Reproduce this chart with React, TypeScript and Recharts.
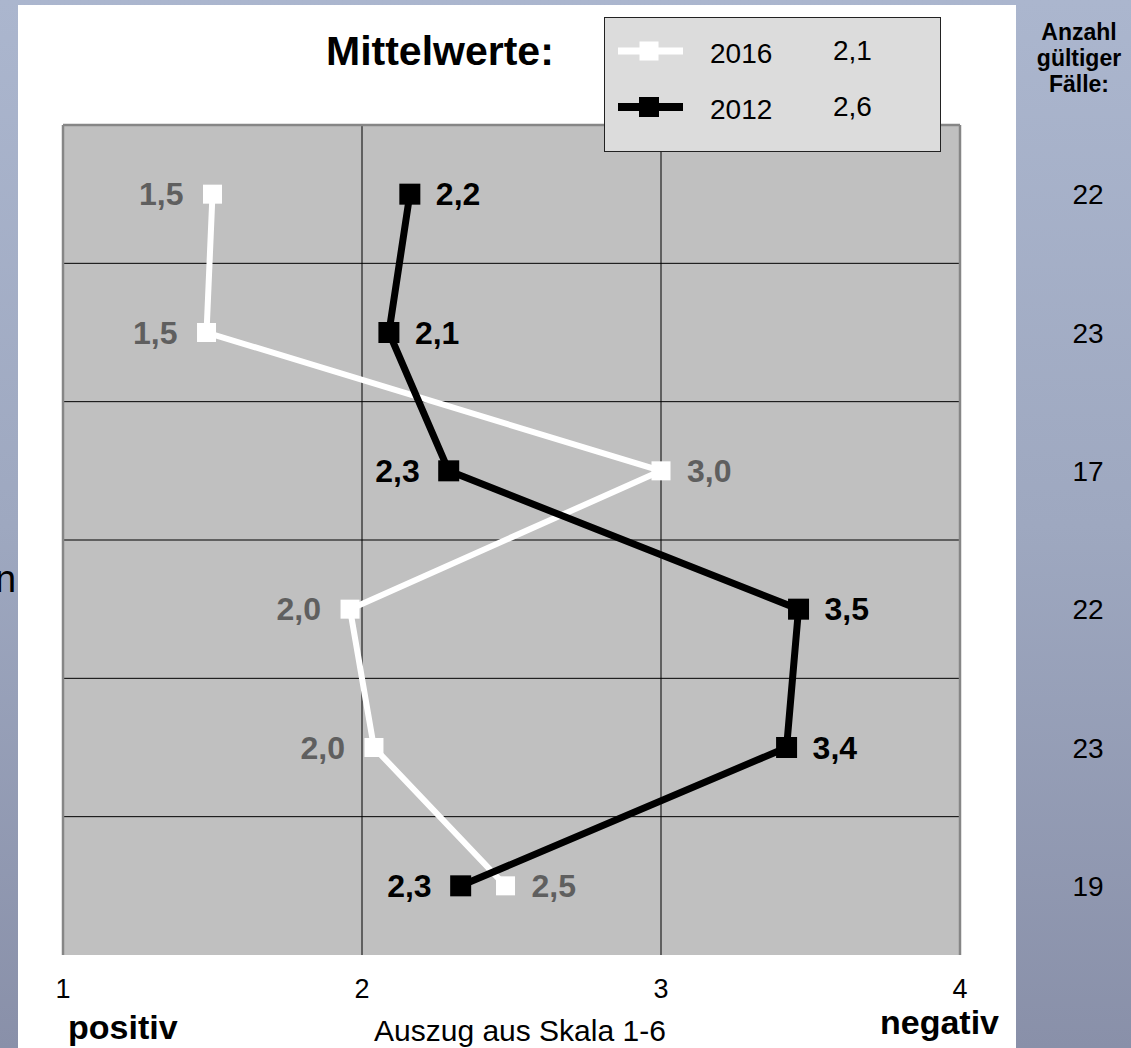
import React from 'react';
import {
  LineChart,
  Line,
  XAxis,
  YAxis,
  CartesianGrid,
  ReferenceLine,
  Legend,
  LabelList,
} from 'recharts';

// ---- data ----
const rows = ['Aussage 1', 'Aussage 2', 'Aussage 3', 'Aussage 4', 'Aussage 5', 'Aussage 6'];
const values2016 = [1.5, 1.48, 3.0, 1.96, 2.04, 2.48];
const values2012 = [2.16, 2.09, 2.29, 3.46, 3.42, 2.33];
const validCases = [22, 23, 17, 22, 23, 19];
const xTicks = [1, 2, 3, 4];
const seriesNames = ['2016', '2012'];
const seriesMeans = [2.1, 2.6];
const labelSide2016 = ['left', 'left', 'right', 'left', 'left', 'right'];
const labelSide2012 = ['right', 'right', 'left', 'right', 'right', 'left'];

const data = rows.map((row, i) => ({
  row,
  v2016: values2016[i],
  v2012: values2012[i],
  cases: validCases[i],
}));

const FONT = '"Liberation Sans", Arial, Helvetica, sans-serif';
const fmt = (v: number) => v.toFixed(1).replace('.', ',');
const BORDER = '#868686';

const makeLabel = (sides: string[], color: string) => (props: any) => {
  const x = props.x ?? props.viewBox?.x;
  const y = props.y ?? props.viewBox?.y;
  const idx = props.index;
  const side = sides[idx];
  if (x == null || y == null) return null;
  return (
    <text
      key={`lbl-${color}-${idx}`}
      x={side === 'left' ? x - 29 : x + 26}
      y={y + 11}
      textAnchor={side === 'left' ? 'end' : 'start'}
      fontFamily={FONT}
      fontWeight="bold"
      fontSize={32}
      fill={color}
    >
      {fmt(Number(props.value))}
    </text>
  );
};

const makeDot = (fill: string, size: number) => (p: any) => (
  <rect
    key={`dot-${fill}-${p.index}`}
    x={p.cx - size / 2}
    y={p.cy - size / 2}
    width={size}
    height={size}
    fill={fill}
  />
);

const CasesTick = (props: any) => {
  const { x, y, index } = props;
  return (
    <text x={x} y={y + 10} textAnchor="middle" fontFamily={FONT} fontSize={28} fill="#000">
      {validCases[index]}
    </text>
  );
};

const legendStyles = [
  { stroke: '#ffffff', width: 7, size: 19 },
  { stroke: '#000000', width: 8, size: 20 },
];

const renderLegend = () => (
  <div
    style={{
      width: 337,
      height: 135,
      boxSizing: 'border-box',
      background: '#dcdcdc',
      border: '1.5px solid #222',
    }}
  >
    <svg width={334} height={132} style={{ display: 'block' }}>
      {seriesNames.map((name, i) => {
        const cy = 33 + i * 56;
        const st = legendStyles[i];
        return (
          <g key={name}>
            <line x1={13} x2={78} y1={cy} y2={cy} stroke={st.stroke} strokeWidth={st.width} />
            <rect x={44 - st.size / 2} y={cy - st.size / 2} width={st.size} height={st.size} fill={st.stroke} />
            <text x={105} y={cy + 12} fontFamily={FONT} fontSize={28} fill="#000">
              {name}
            </text>
            <text x={228} y={cy + 9} fontFamily={FONT} fontSize={28} fill="#000">
              {fmt(seriesMeans[i])}
            </text>
          </g>
        );
      })}
    </svg>
  </div>
);

export default function App() {
  return (
    <div
      style={{
        position: 'absolute',
        left: 0,
        top: 0,
        width: 1131,
        height: 1048,
        overflow: 'hidden',
        background: 'linear-gradient(180deg, #abb6ce 0%, #9ea8c0 50%, #8990a9 100%)',
        fontFamily: FONT,
      }}
    >
      <div
        style={{
          position: 'absolute',
          left: 18,
          top: 5,
          width: 998,
          height: 1043,
          background: '#ffffff',
        }}
      />
      <div style={{ position: 'absolute', left: 0, top: 0 }}>
        <LineChart
          width={1131}
          height={1048}
          data={data}
          layout="vertical"
          margin={{ top: 125, right: 0, bottom: 0, left: 63 }}
        >
          <CartesianGrid fill="#c0c0c0" fillOpacity={1} stroke="#000" strokeWidth={1} horizontal={false} />
          <XAxis
            type="number"
            dataKey="v2016"
            domain={[1, 4]}
            ticks={xTicks}
            tickLine={false}
            axisLine={false}
            tickSize={0}
            tickMargin={24}
            height={93}
            tick={{ fontSize: 27, fill: '#000', fontFamily: FONT }}
            allowDataOverflow
          />
          <YAxis
            type="category"
            dataKey="row"
            scale="band"
            orientation="right"
            width={171}
            tickLine={false}
            axisLine={false}
            tickSize={0}
            tickMargin={128}
            tick={<CasesTick />}
          />
          {rows.slice(1).map((r) => (
            <ReferenceLine key={r} y={r} position="start" stroke="#000" strokeWidth={1} />
          ))}
          <ReferenceLine y={rows[0]} position="start" stroke={BORDER} strokeWidth={2.5} />
          <ReferenceLine y={rows[rows.length - 1]} position="end" stroke={BORDER} strokeWidth={2.5} />
          <ReferenceLine x={xTicks[0]} stroke={BORDER} strokeWidth={2.5} />
          <ReferenceLine x={xTicks[xTicks.length - 1]} stroke={BORDER} strokeWidth={2.5} />
          <Legend
            layout="vertical"
            align="center"
            verticalAlign="middle"
            wrapperStyle={{ left: 604, top: 17, width: 337, height: 135 }}
            content={renderLegend}
          />
          <Line
            name={seriesNames[0]}
            dataKey="v2016"
            type="linear"
            stroke="#ffffff"
            strokeWidth={6}
            dot={makeDot('#ffffff', 19)}
            activeDot={false}
            isAnimationActive={false}
          >
            <LabelList dataKey="v2016" content={makeLabel(labelSide2016, '#5f5f5f')} />
          </Line>
          <Line
            name={seriesNames[1]}
            dataKey="v2012"
            type="linear"
            stroke="#000000"
            strokeWidth={7}
            dot={makeDot('#000000', 21)}
            activeDot={false}
            isAnimationActive={false}
          >
            <LabelList dataKey="v2012" content={makeLabel(labelSide2012, '#000000')} />
          </Line>
        </LineChart>
      </div>
      <svg
        width={1131}
        height={1048}
        style={{ position: 'absolute', left: 0, top: 0, pointerEvents: 'none' }}
      >
        <text x={-5} y={592} fontFamily={FONT} fontSize={38} fill="#000">n</text>
        <text x={326} y={65} fontFamily={FONT} fontWeight="bold" fontSize={41} fill="#000">
          Mittelwerte:
        </text>
        <g fontFamily={FONT} fontWeight="bold" fontSize={23} fill="#000" textAnchor="middle">
          <text x={1079} y={40}>Anzahl</text>
          <text x={1079} y={66}>gültiger</text>
          <text x={1079} y={92}>Fälle:</text>
        </g>
        <text x={68} y={1039} fontFamily={FONT} fontWeight="bold" fontSize={34} fill="#000">
          positiv
        </text>
        <text x={374} y={1041} fontFamily={FONT} fontSize={30} fill="#000">
          Auszug aus Skala 1-6
        </text>
        <text x={880} y={1034} fontFamily={FONT} fontWeight="bold" fontSize={34} fill="#000">
          negativ
        </text>
      </svg>
    </div>
  );
}
